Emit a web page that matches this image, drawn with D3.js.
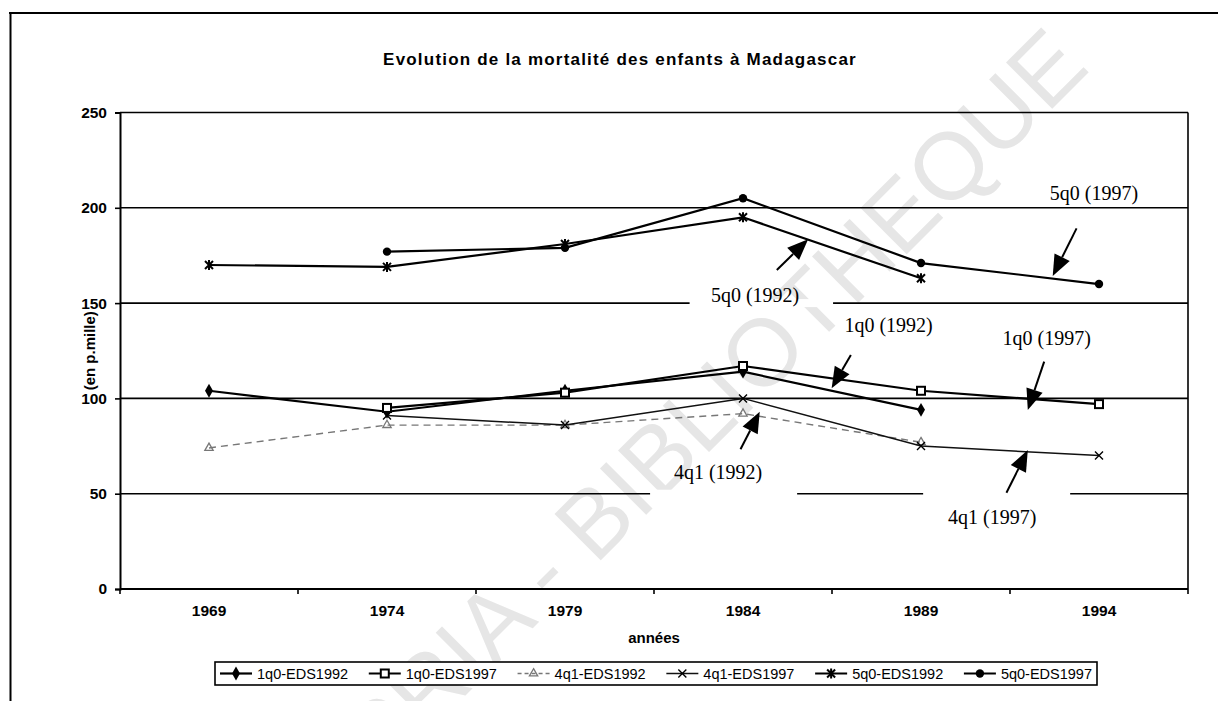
<!DOCTYPE html>
<html>
<head>
<meta charset="utf-8">
<script src="https://cdn.jsdelivr.net/npm/d3@7/dist/d3.min.js"></script>
<style>
body { margin: 0; background: #fff; }
svg { display: block; }
</style>
</head>
<body>
<div id="vis"></div>
<script>
// values (per mille)
var years = [1969, 1974, 1979, 1984, 1989, 1994];
var q1_1992 = [104, 93, 104, 114, 94, null];
var q1_1997 = [null, 95, 103, 117, 104, 97];
var q4_1992 = [74, 86, 86, 92, 77, null];
var q4_1997 = [null, 91, 86, 100, 75, 70];
var q5_1992 = [170, 169, 181, 195, 163, null];
var q5_1997 = [null, 177, 179, 205, 171, 160];
var yTicks = [0, 50, 100, 150, 200, 250];
var seriesNames = ["1q0-EDS1992", "1q0-EDS1997", "4q1-EDS1992", "4q1-EDS1997", "5q0-EDS1992", "5q0-EDS1997"];

// hand-written notes on the scan, in data units (year, value)
var notes = [
    {text: "5q0 (1997)", at: [1993.86, 207.8], from: [1993.37, 189.2], to: [1992.7, 164.2]},
    {text: "5q0 (1992)", at: [1984.34, 154.2], from: [1984.95, 167.4], to: [1985.83, 183.5]},
    {text: "1q0 (1992)", at: [1988.09, 138.5], from: [1987.03, 122.8], to: [1986.49, 105.3]},
    {text: "1q0 (1997)", at: [1992.53, 131.5], from: [1992.46, 119.3], to: [1992.0, 93.9]},
    {text: "4q1 (1992)", at: [1983.3, 61.5], from: [1983.93, 73.3], to: [1984.47, 93.0]},
    {text: "4q1 (1997)", at: [1991.0, 37.9], from: [1991.4, 50.5], to: [1992.0, 72.9]}
];
// pieces of gridline hidden behind the notes
var gaps = [
    {value: 150, x0: 1982.5, x1: 1986.53},
    {value: 50, x0: 1981.39, x1: 1985.52},
    {value: 50, x0: 1989.06, x1: 1993.19}
];

var width = 1218, height = 701;
var plot = {left: 120, right: 1188, top: 112.5, bottom: 589};

var svg = d3.select("#vis").append("svg")
    .attr("width", width)
    .attr("height", height);

var x = d3.scaleBand().domain(years).range([plot.left, plot.right]);
var y = d3.scaleLinear().domain([0, 250]).range([plot.bottom, plot.top]);
var half = x.bandwidth() / 2;
var xl = d3.scaleLinear().domain([1969, 1994]).range([x(1969) + half, x(1994) + half]);

var sans = "'Liberation Sans', Arial, sans-serif";
var serif = "'Liberation Serif', 'Times New Roman', serif";

////////// page frame //////////
svg.append("line").attr("x1", 9).attr("x2", width).attr("y1", 13).attr("y2", 13)
    .attr("stroke", "#000").attr("stroke-width", 2);
svg.append("line").attr("x1", 10.5).attr("x2", 10.5).attr("y1", 12).attr("y2", height)
    .attr("stroke", "#000").attr("stroke-width", 2);

////////// watermark //////////
svg.append("text")
    .attr("transform", "translate(640,521) rotate(-45)")
    .attr("text-anchor", "middle")
    .attr("font-family", sans)
    .attr("font-size", 95)
    .attr("fill", "#e6e6e6")
    .text("CODESRIA - BIBLIOTHEQUE");

////////// title //////////
svg.append("text")
    .attr("x", 620).attr("y", 65)
    .attr("text-anchor", "middle")
    .attr("font-family", sans).attr("font-weight", "bold")
    .attr("font-size", 17).attr("letter-spacing", 1.2)
    .text("Evolution de la mortalité des enfants à Madagascar");

////////// grid + axes //////////
svg.append("g").selectAll("line")
    .data(yTicks.filter(function (d) { return d > 0; }))
    .enter().append("line")
    .attr("x1", plot.left).attr("x2", plot.right)
    .attr("y1", function (d) { return y(d); })
    .attr("y2", function (d) { return y(d); })
    .attr("stroke", "#000").attr("stroke-width", 1.6);

svg.append("g").selectAll("rect")
    .data(gaps)
    .enter().append("rect")
    .attr("x", function (d) { return xl(d.x0); })
    .attr("width", function (d) { return xl(d.x1) - xl(d.x0); })
    .attr("y", function (d) { return y(d.value) - 4; })
    .attr("height", 8)
    .attr("fill", "#fff");

svg.append("line")
    .attr("x1", plot.right).attr("x2", plot.right)
    .attr("y1", plot.top).attr("y2", plot.bottom)
    .attr("stroke", "#000").attr("stroke-width", 1.6);

var yAxis = svg.append("g")
    .attr("transform", "translate(" + plot.left + ",0)")
    .call(d3.axisLeft(y).tickValues(yTicks).tickSize(5).tickPadding(8));
var xAxis = svg.append("g")
    .attr("transform", "translate(0," + plot.bottom + ")")
    .call(d3.axisBottom(x).tickSize(0).tickPadding(16));

// category axis: ticks sit between categories
xAxis.append("g").selectAll("line")
    .data(d3.range(years.length + 1))
    .enter().append("line")
    .attr("x1", function (i) { return plot.left + i * x.step(); })
    .attr("x2", function (i) { return plot.left + i * x.step(); })
    .attr("y1", 0).attr("y2", 5)
    .attr("stroke", "#000").attr("stroke-width", 1.6);

[yAxis, xAxis].forEach(function (a) {
    a.select(".domain").attr("stroke", "#000").attr("stroke-width", 2);
    a.selectAll(".tick line").attr("stroke", "#000").attr("stroke-width", 1.6);
    a.selectAll("text")
        .attr("font-family", sans).attr("font-weight", "bold")
        .attr("font-size", 15.5).attr("fill", "#000");
});
xAxis.select(".domain").attr("d", "M" + plot.left + ",0H" + plot.right);

svg.append("text")
    .attr("x", (plot.left + plot.right) / 2).attr("y", 643)
    .attr("text-anchor", "middle")
    .attr("font-family", sans).attr("font-weight", "bold").attr("font-size", 15)
    .text("années");

svg.append("text")
    .attr("transform", "translate(95," + (plot.top + plot.bottom) / 2 + ") rotate(-90)")
    .attr("text-anchor", "middle")
    .attr("font-family", sans).attr("font-weight", "bold").attr("font-size", 15)
    .text("(en p.mille)");

////////// series //////////
function markDiamond(g) {
    g.append("path").attr("d", d3.symbol(d3.symbolDiamond, 55)).attr("fill", "#000");
}
function markSquare(g) {
    g.append("rect").attr("x", -4).attr("y", -4).attr("width", 8).attr("height", 8)
        .attr("fill", "#fff").attr("stroke", "#000").attr("stroke-width", 2);
}
function markTriangle(g) {
    g.append("path").attr("d", d3.symbol(d3.symbolTriangle, 30))
        .attr("fill", "none").attr("stroke", "#777").attr("stroke-width", 1.3);
}
function markCross(g) {
    g.append("path").attr("d", "M-4,-4L4,4M-4,4L4,-4")
        .attr("stroke", "#000").attr("stroke-width", 1.4);
}
function markStar(g) {
    g.append("path").attr("d", "M-4,-4L4,4M-4,4L4,-4M0,-5V5")
        .attr("stroke", "#000").attr("stroke-width", 2);
}
function markDot(g) {
    g.append("circle").attr("r", 4.2).attr("fill", "#000");
}

var series = [
    {name: seriesNames[0], values: q1_1992, stroke: "#000", width: 2.2, dash: null, mark: markDiamond},
    {name: seriesNames[1], values: q1_1997, stroke: "#000", width: 2.2, dash: null, mark: markSquare},
    {name: seriesNames[2], values: q4_1992, stroke: "#777", width: 1.4, dash: "7,5", mark: markTriangle},
    {name: seriesNames[3], values: q4_1997, stroke: "#111", width: 1.5, dash: null, mark: markCross},
    {name: seriesNames[4], values: q5_1992, stroke: "#000", width: 2.2, dash: null, mark: markStar},
    {name: seriesNames[5], values: q5_1997, stroke: "#000", width: 2.2, dash: null, mark: markDot}
];

var line = d3.line()
    .defined(function (d) { return d.v != null; })
    .x(function (d) { return x(d.year) + half; })
    .y(function (d) { return y(d.v); });

series.forEach(function (s) {
    var pts = years.map(function (yr, i) { return {year: yr, v: s.values[i]}; });
    var g = svg.append("g");
    g.append("path")
        .attr("d", line(pts))
        .attr("fill", "none")
        .attr("stroke", s.stroke)
        .attr("stroke-width", s.width)
        .attr("stroke-dasharray", s.dash);
    g.selectAll("g.pt")
        .data(pts.filter(function (d) { return d.v != null; }))
        .enter().append("g")
        .attr("class", "pt")
        .attr("transform", function (d) { return "translate(" + (x(d.year) + half) + "," + y(d.v) + ")"; })
        .each(function () { s.mark(d3.select(this)); });
});

////////// notes with arrows //////////
var ng = svg.append("g");
notes.forEach(function (n) {
    var x0 = xl(n.from[0]), y0 = y(n.from[1]);
    var x1 = xl(n.to[0]), y1 = y(n.to[1]);
    var len = Math.hypot(x1 - x0, y1 - y0);
    var ux = (x1 - x0) / len, uy = (y1 - y0) / len;
    var head = 21, hw = 8.5;
    var bx = x1 - ux * head, by = y1 - uy * head;
    ng.append("line")
        .attr("x1", x0).attr("y1", y0).attr("x2", bx).attr("y2", by)
        .attr("stroke", "#000").attr("stroke-width", 2);
    ng.append("path")
        .attr("d", "M" + x1 + "," + y1 +
            "L" + (bx - uy * hw) + "," + (by + ux * hw) +
            "L" + (bx + uy * hw) + "," + (by - ux * hw) + "Z")
        .attr("fill", "#000");
    ng.append("text")
        .attr("x", xl(n.at[0])).attr("y", y(n.at[1]))
        .attr("dy", "0.35em")
        .attr("text-anchor", "middle")
        .attr("font-family", serif).attr("font-size", 20)
        .text(n.text);
});

////////// legend //////////
var box = {x: 215, y: 662, w: 882, h: 23};
var lg = svg.append("g");
lg.append("rect")
    .attr("x", box.x).attr("y", box.y).attr("width", box.w).attr("height", box.h)
    .attr("fill", "#fff").attr("stroke", "#000").attr("stroke-width", 1.6);

var items = series.map(function (s) {
    var it = lg.append("g");
    var sample = 32;
    it.append("line").attr("x1", 0).attr("x2", sample)
        .attr("stroke", s.stroke).attr("stroke-width", s.width)
        .attr("stroke-dasharray", s.dash ? "4,3" : null);
    s.mark(it.append("g").attr("transform", "translate(" + sample / 2 + ",0)"));
    var t = it.append("text")
        .attr("x", sample + 5).attr("dy", "0.35em")
        .attr("font-family", sans).attr("font-size", 14.5)
        .text(s.name);
    return {g: it, w: sample + 5 + t.node().getComputedTextLength()};
});
var used = d3.sum(items, function (d) { return d.w; });
var gap = (box.w - 10 - used) / (items.length - 1);
var cx = box.x + 5;
items.forEach(function (it) {
    it.g.attr("transform", "translate(" + cx + "," + (box.y + box.h / 2) + ")");
    cx += it.w + gap;
});
</script>
</body>
</html>
